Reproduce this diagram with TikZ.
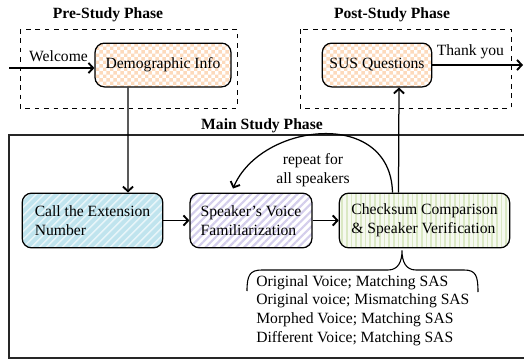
\documentclass[tikz,border=0pt]{standalone}
\usepackage{fontspec}
\setmainfont{Liberation Serif}
\usetikzlibrary{arrows.meta,patterns,patterns.meta,calc}

\pgfdeclarepatternformonly{smallchecks}{\pgfqpoint{0pt}{0pt}}{\pgfqpoint{4.4pt}{4.4pt}}{\pgfqpoint{4.4pt}{4.4pt}}{%
  \pgfpathrectangle{\pgfqpoint{0pt}{0pt}}{\pgfqpoint{2.2pt}{2.2pt}}%
  \pgfpathrectangle{\pgfqpoint{2.2pt}{2.2pt}}{\pgfqpoint{2.2pt}{2.2pt}}%
  \pgfusepath{fill}}

\definecolor{peach}{RGB}{253,218,188}
\definecolor{skyfill}{RGB}{192,228,238}
\definecolor{lavfill}{RGB}{212,206,236}
\definecolor{olivefill}{RGB}{218,232,196}

\tikzset{
  stage/.style={draw,rounded corners=6pt,line width=0.8pt,align=left,inner sep=0pt,minimum height=28pt},
  checks/.style={preaction={fill=white},preaction={pattern=smallchecks,pattern color=peach}},
  skystripes/.style={preaction={fill=skyfill},preaction={pattern={Lines[angle=45,distance=4pt,line width=1.3pt]},pattern color=white!60!skyfill}},
  lavstripes/.style={preaction={fill=white},preaction={pattern={Lines[angle=45,distance=3.5pt,line width=1.4pt]},pattern color=lavfill}},
  olivestripes/.style={preaction={fill=white!75!olivefill},preaction={pattern={Lines[angle=90,distance=3pt,line width=1.1pt]},pattern color=olivefill}},
  phasebox/.style={dashed,line width=0.6pt},
  title/.style={font=\bfseries},
  flow/.style={->,line width=0.8pt,>={Straight Barb[length=3pt,width=6.5pt,line width=1.2pt]}}
}

\begin{document}
\begin{tikzpicture}[x=0.64pt,y=-0.64pt]
\useasboundingbox (0,0) rectangle (524,360);
% phases
\draw[phasebox] (20,29) rectangle (237,108);
\draw[phasebox] (300,29) rectangle (511,108);
\draw[line width=0.7pt,draw=black!85] (524,135) -- (9,135) -- (9,358) -- (524,358);
\node[title] (pre) at (108,15) {Pre-Study Phase};
\node[title] (post) at (392,15) {Post-Study Phase};
\node[title] (main) at (262,126) {Main Study Phase};
% steps
\node[stage,checks,minimum width=87pt] (demo) at (163,65) {Demographic Info};
\node[stage,checks,minimum width=70pt] (sus) at (377,65) {SUS Questions};
\node[stage,skystripes,minimum width=90pt,minimum height=35pt] (call) at (92.5,220.5) {Call the Extension\\Number};
\node[stage,lavstripes,minimum width=78pt,minimum height=35pt] (spk) at (251,220.5) {Speaker's Voice\\Familiarization};
\node[stage,olivestripes,minimum width=109pt,minimum height=35pt] (chk) at (424.5,220.5) {Checksum Comparison\\\& Speaker Verification};
\coordinate (in) at (9,68);
\coordinate (out) at (523,65);
% arrows
\draw[flow] (in) -- (in -| demo.west) node[pos=0.58,above]{Welcome};
\draw[flow] (sus.east) -- (out) node[pos=0.42,above]{Thank you};
\draw[flow] ($(demo.south)+(-35,0)$) -- ($(call.north)+(35.5,0)$);
\draw[flow] (call) -- (spk);
\draw[flow] (spk) -- (chk);
\draw[flow] ($(chk.north)+(-26,0)$) -- ($(sus.south)+(22,0)$);
\draw[flow] ($(chk.north)+(-32,0)$) .. controls ($(chk.north)+(-34,-85)$) and ($(spk.north)+(10,-70)$) .. ($(spk.north)+(-18,-4)$);
\node[align=center] (rep) at (313,170) {repeat for\\all speakers};
% cases
\coordinate (tip) at ($(chk.south)+(-22.5,2)$);
\draw[line width=0.7pt] (247,291) .. controls (247,275) and (250,270) .. (262,270) -- (388,270)
  .. controls (398,270) and (tip|-0,262) .. (tip) .. controls (tip|-0,262) and (406,270) .. (416,270)
  -- (464,270) .. controls (476,270) and (478,276) .. (478,292);
\node[anchor=north west,inner sep=0pt,align=left] (cases) at (256,275) {Original Voice; Matching SAS\\Original voice; Mismatching SAS\\Morphed Voice; Matching SAS\\Different Voice; Matching SAS};
\end{tikzpicture}
\end{document}
